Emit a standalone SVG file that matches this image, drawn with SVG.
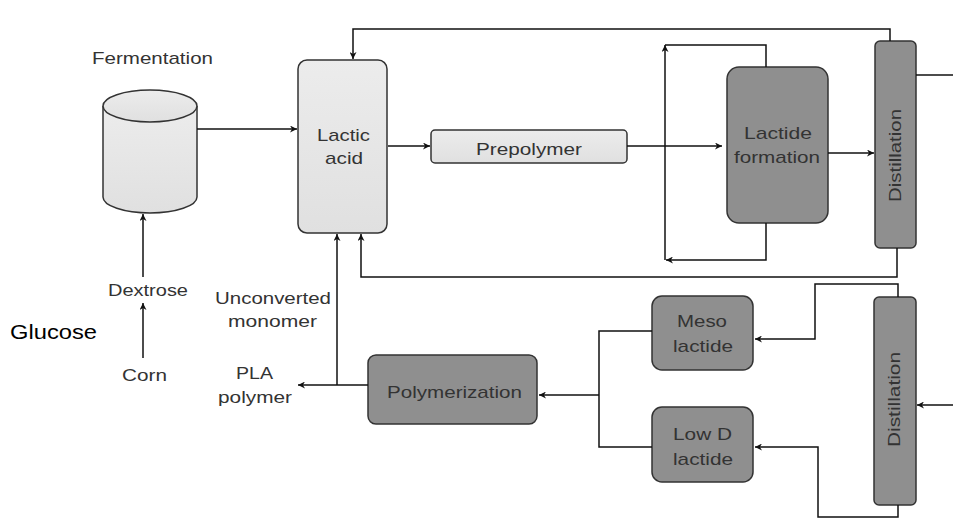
<svg xmlns="http://www.w3.org/2000/svg" width="953" height="519" viewBox="0 0 953 519">
<defs>
<marker id="arr" viewBox="0 0 10 10" refX="10" refY="5" markerWidth="7" markerHeight="7" markerUnits="userSpaceOnUse" orient="auto">
<path d="M0,0 L10,5 L0,10 L3,5 Z" fill="#111"/>
</marker>
<linearGradient id="lg" x1="0" y1="0" x2="0" y2="1">
<stop offset="0" stop-color="#ececec"/><stop offset="1" stop-color="#e0e0e0"/>
</linearGradient>
</defs>
<style>
text{font-family:"Liberation Sans",Arial,sans-serif;font-size:17px;fill:#333}
.light{fill:url(#lg);stroke:#333;stroke-width:1.5}
.dark{fill:#8f8f8f;stroke:#333;stroke-width:1.5}
.c path{fill:none;stroke:#111;stroke-width:1.5}
.a{marker-end:url(#arr)}
</style>
<rect width="953" height="519" fill="#fff"/>

<g id="fermentation">
<path d="M103,106 V197 A47,16 0 0 0 197,197 V106" class="light"/>
<ellipse cx="150" cy="106" rx="47" ry="16" class="light"/>
<text x="92" y="64" textLength="121" lengthAdjust="spacingAndGlyphs">Fermentation</text>
</g>
<g id="lactic-acid">
<rect x="298" y="60" width="89" height="173" rx="9" class="light"/>
<text x="317" y="141" textLength="53" lengthAdjust="spacingAndGlyphs">Lactic</text>
<text x="325" y="164" textLength="38" lengthAdjust="spacingAndGlyphs">acid</text>
</g>
<g id="prepolymer">
<rect x="431" y="130" width="196" height="33" rx="4" class="light"/>
<text x="476" y="155" textLength="106" lengthAdjust="spacingAndGlyphs">Prepolymer</text>
</g>
<g id="lactide-formation">
<rect x="727" y="67" width="101" height="156" rx="12" class="dark"/>
<text x="744" y="139" textLength="68" lengthAdjust="spacingAndGlyphs">Lactide</text>
<text x="734" y="163" textLength="86" lengthAdjust="spacingAndGlyphs">formation</text>
</g>
<g id="distillation-1">
<rect x="875" y="41" width="41" height="207" rx="5" class="dark"/>
<text transform="translate(901,156) rotate(-90)" x="-46" y="0" textLength="93" lengthAdjust="spacingAndGlyphs">Distillation</text>
</g>
<g id="distillation-2">
<rect x="874" y="297" width="42" height="208" rx="5" class="dark"/>
<text transform="translate(900,400) rotate(-90)" x="-47" y="0" textLength="95" lengthAdjust="spacingAndGlyphs">Distillation</text>
</g>
<g id="meso-lactide">
<rect x="652" y="296" width="101" height="74" rx="10" class="dark"/>
<text x="677" y="327" textLength="50" lengthAdjust="spacingAndGlyphs">Meso</text>
<text x="673" y="352" textLength="60" lengthAdjust="spacingAndGlyphs">lactide</text>
</g>
<g id="low-d-lactide">
<rect x="652" y="407" width="101" height="75" rx="10" class="dark"/>
<text x="673" y="440" textLength="59" lengthAdjust="spacingAndGlyphs">Low D</text>
<text x="673" y="465" textLength="60" lengthAdjust="spacingAndGlyphs">lactide</text>
</g>
<g id="polymerization">
<rect x="368" y="355" width="169" height="69" rx="8" class="dark"/>
<text x="387" y="398" textLength="135" lengthAdjust="spacingAndGlyphs">Polymerization</text>
</g>
<g id="labels">
<text x="108" y="296" textLength="80" lengthAdjust="spacingAndGlyphs">Dextrose</text>
<text x="122" y="381" textLength="45" lengthAdjust="spacingAndGlyphs">Corn</text>
<text x="10" y="339" style="font-size:21px;fill:#000" textLength="87" lengthAdjust="spacingAndGlyphs">Glucose</text>
<text x="215" y="304" textLength="116" lengthAdjust="spacingAndGlyphs">Unconverted</text>
<text x="228" y="327" textLength="89" lengthAdjust="spacingAndGlyphs">monomer</text>
<text x="236" y="379" textLength="37" lengthAdjust="spacingAndGlyphs">PLA</text>
<text x="218" y="403" textLength="74" lengthAdjust="spacingAndGlyphs">polymer</text>
</g>
<g id="connectors" class="c">
<path class="a" d="M143,358 V303"/>
<path class="a" d="M143,277 V214"/>
<path class="a" d="M197,129 H297"/>
<path class="a" d="M388,146 H430"/>
<path class="a" d="M627,146 H722"/>
<path class="a" d="M828,153 H874"/>
<path d="M665,45 H766 V67"/>
<path class="a" d="M665,260 V45"/>
<path class="a" d="M766,223 V260 H666"/>
<path class="a" d="M890,41 V29 H353 V59"/>
<path class="a" d="M897,248 V277 H361 V234"/>
<path d="M916,75 H953"/>
<path class="a" d="M898,297 V284 H815 V339 H755"/>
<path class="a" d="M898,505 V517 H818 V447 H755"/>
<path class="a" d="M953,405 H917"/>
<path d="M652,331 H599 V447 H652"/>
<path class="a" d="M599,395 H539"/>
<path class="a" d="M368,385 H298"/>
<path class="a" d="M337,385 V234"/>
</g>
</svg>
